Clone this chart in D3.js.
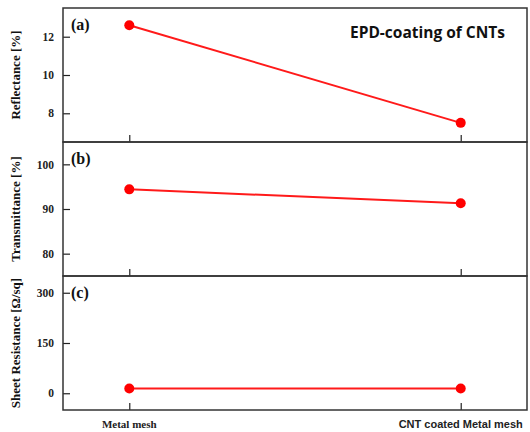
<!DOCTYPE html>
<html>
<head>
<meta charset="utf-8">
<script src="https://cdn.jsdelivr.net/npm/d3@7"></script>
<style>
  body { margin: 0; background: #fff; }
  svg { display: block; }
</style>
</head>
<body>
<svg width="530" height="432"></svg>
<script>
// data
const samples = ["Metal mesh", "CNT coated Metal mesh"];
const reflectance = [12.6, 7.5];
const transmittance = [94.4, 91.3];
const sheetResistance = [14, 14];

const panels = [
  {tag: "(a)", label: "Reflectance [%]", values: reflectance, domain: [6.5, 13.5], ticks: [8, 10, 12]},
  {tag: "(b)", label: "Transmittance [%]", values: transmittance, domain: [75, 105], ticks: [80, 90, 100]},
  {tag: "(c)", label: "Sheet Resistance [\u03A9/sq]", values: sheetResistance, domain: [-50, 350], ticks: [0, 150, 300]}
];

const plotLeft = 63, plotRight = 527, plotTop = 8, panelH = 134;
const serif = "'Liberation Serif', 'Times New Roman', serif";

const svg = d3.select("svg");

const x = d3.scalePoint()
  .domain(samples)
  .range([plotLeft, plotRight])
  .padding(0.2);

panels.forEach((p, i) => {
  const y0 = plotTop + i * panelH;
  const y = d3.scaleLinear()
    .domain(p.domain)
    .range([y0 + panelH, y0]);

  const g = svg.append("g");

  // y axis ticks (inward)
  const yAxis = d3.axisLeft(y).tickValues(p.ticks).tickFormat(d3.format("d"))
    .tickSize(-7).tickPadding(9);
  g.append("g")
    .attr("transform", `translate(${plotLeft},0)`)
    .call(yAxis)
    .call(a => a.select(".domain").remove())
    .call(a => a.selectAll("line").attr("stroke", "#222").attr("stroke-width", 1.2))
    .call(a => a.selectAll("text")
      .attr("font-family", serif).attr("font-weight", "bold")
      .attr("font-size", "11.5px").attr("fill", "#222"));

  // x ticks (inward, from panel bottom)
  const xAxis = d3.axisBottom(x).tickSize(-7).tickFormat("");
  g.append("g")
    .attr("transform", `translate(0,${y0 + panelH})`)
    .call(xAxis)
    .call(a => a.select(".domain").remove())
    .call(a => a.selectAll("line").attr("stroke", "#222").attr("stroke-width", 1.2));

  // frame
  g.append("rect")
    .attr("x", plotLeft).attr("y", y0)
    .attr("width", plotRight - plotLeft).attr("height", panelH)
    .attr("fill", "none").attr("stroke", "#333").attr("stroke-width", 1.5);

  // panel tag
  g.append("text")
    .attr("x", plotLeft + 8).attr("y", y0 + 22)
    .attr("font-family", serif).attr("font-weight", "bold")
    .attr("font-size", "16px").attr("fill", "#111")
    .text(p.tag);

  // y label
  g.append("text")
    .attr("transform", `translate(20,${y0 + panelH / 2}) rotate(-90)`)
    .attr("text-anchor", "middle")
    .attr("font-family", serif).attr("font-weight", "bold")
    .attr("font-size", "13px").attr("fill", "#111")
    .text(p.label);

  // line + markers
  const line = d3.line()
    .x((d, j) => x(samples[j]))
    .y(d => y(d));

  g.append("path")
    .datum(p.values)
    .attr("d", line)
    .attr("fill", "none")
    .attr("stroke", "#ff1a1a")
    .attr("stroke-width", 2);

  g.selectAll("circle")
    .data(p.values)
    .enter().append("circle")
    .attr("cx", (d, j) => x(samples[j]))
    .attr("cy", d => y(d))
    .attr("r", 5)
    .attr("fill", "#ff0000");
});

// title inside panel (a)
svg.append("text")
  .attr("x", 505).attr("y", 38)
  .attr("text-anchor", "end")
  .attr("font-family", "'Open Sans', sans-serif").attr("font-weight", "bold")
  .attr("font-size", "15.5px").attr("fill", "#111")
  .text("EPD-coating of CNTs");

// category labels
svg.append("text")
  .attr("x", x(samples[0])).attr("y", 428)
  .attr("text-anchor", "middle")
  .attr("font-family", serif).attr("font-weight", "bold")
  .attr("font-size", "11px").attr("fill", "#222")
  .text(samples[0]);

svg.append("text")
  .attr("x", x(samples[1])).attr("y", 428)
  .attr("text-anchor", "middle")
  .attr("font-family", "'Liberation Sans', Arial, sans-serif").attr("font-weight", "bold")
  .attr("font-size", "11px").attr("fill", "#222")
  .text(samples[1]);
</script>
</body>
</html>
